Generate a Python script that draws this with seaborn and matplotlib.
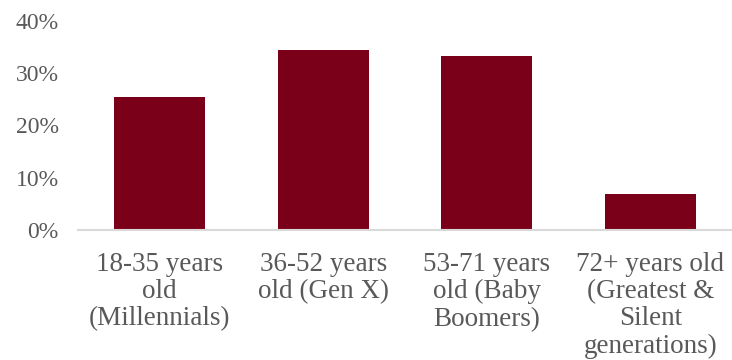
import matplotlib
matplotlib.use("Agg")
import matplotlib.pyplot as plt
import seaborn as sns
import pandas as pd
from matplotlib.ticker import PercentFormatter

# Share of respondents by generation
categories = [
    "18-35 years\nold\n(Millennials)",
    "36-52 years\nold (Gen X)",
    "53-71 years\nold (Baby\nBoomers)",
    "72+ years old\n(Greatest &\nSilent\ngenerations)",
]
shares = [0.254, 0.344, 0.333, 0.069]
y_ticks = [0.0, 0.1, 0.2, 0.3, 0.4]

df = pd.DataFrame({"group": categories, "share": shares})

sns.set_theme(style="white")
plt.rcParams["font.family"] = ["Liberation Serif", "DejaVu Serif"]

text_color = "#595959"
bar_color = "#7a0019"

fig = plt.figure(figsize=(7.32, 3.6), dpi=100)
ax = fig.add_axes([0.1066, 0.3611, 0.8934, 0.5814])

sns.barplot(data=df, x="group", y="share", color=bar_color, width=0.556,
            saturation=1, ax=ax, edgecolor="none")

ax.set_ylim(0, 0.4)
ax.set_yticks(y_ticks)
ax.yaxis.set_major_formatter(PercentFormatter(1.0, decimals=0))
ax.set_xlim(-0.5, 3.5)
ax.set_xlabel("")
ax.set_ylabel("")

for side in ["top", "right", "left"]:
    ax.spines[side].set_visible(False)
ax.spines["bottom"].set_color("#d9d9d9")
ax.spines["bottom"].set_linewidth(1.5)

ax.tick_params(axis="y", length=0, pad=14, labelsize=17, labelcolor=text_color)
ax.tick_params(axis="x", length=0, pad=15.5, labelsize=19.5, labelcolor=text_color)
for lbl in ax.get_xticklabels():
    lbl.set_linespacing(1.13)

fig.savefig("out.png", dpi=100)
